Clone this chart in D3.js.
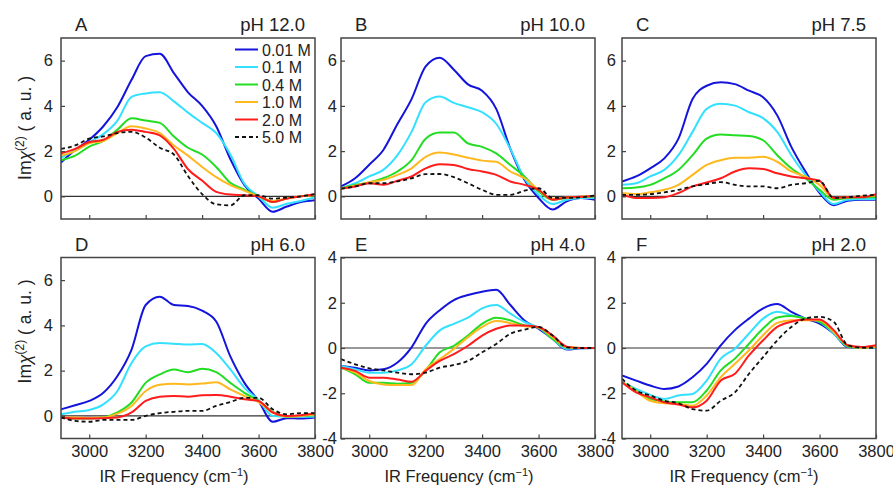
<!DOCTYPE html>
<html>
<head>
<meta charset="utf-8">
<script src="https://cdn.jsdelivr.net/npm/d3@7"></script>
<style>
body { margin: 0; background: #fff; }
svg text { font-family: "Liberation Sans", Arial, sans-serif; fill: #222; }
</style>
</head>
<body>
<svg id="chart" width="893" height="491"></svg>
<script>

// IR frequency grid (cm-1), shared by every curve
const freq = [2900, 2950, 3000, 3050, 3100, 3150, 3200, 3250, 3300, 3350, 3400, 3450, 3500, 3550, 3600, 3650, 3700, 3750, 3800];

const concLabels = ['0.01 M', '0.1 M', '0.4 M', '1.0 M', '2.0 M', '5.0 M'];
const panelLetters = ['A', 'B', 'C', 'D', 'E', 'F'];
const panelPH = ['pH 12.0', 'pH 10.0', 'pH 7.5', 'pH 6.0', 'pH 4.0', 'pH 2.0'];

const xTicks = [3000, 3200, 3400, 3600, 3800];
const yTicksPos = [0, 2, 4, 6];
const yTicksSym = [-4, -2, 0, 2, 4];

// A - pH 12.0
const a001 = [1.5, 2.05, 2.5, 3.1, 3.95, 5.15, 6.2, 6.3, 5.45, 4.6, 4.0, 3.1, 1.65, 0.5, -0.1, -0.68, -0.45, -0.25, -0.17];
const a01  = [1.7, 2.05, 2.4, 2.75, 3.35, 4.4, 4.55, 4.6, 4.2, 3.7, 3.25, 2.8, 1.85, 0.55, 0.0, -0.5, -0.33, -0.2, -0.05];
const a04  = [1.6, 1.8, 2.2, 2.45, 2.95, 3.45, 3.35, 3.25, 2.65, 2.15, 1.85, 1.3, 0.6, 0.3, 0.0, -0.25, -0.1, 0.0, 0.05];
const a10  = [1.8, 2.0, 2.35, 2.45, 2.8, 3.1, 3.0, 2.8, 2.25, 1.8, 1.3, 0.85, 0.5, 0.25, 0.0, -0.2, -0.1, 0.0, 0.05];
const a20  = [1.9, 2.1, 2.4, 2.5, 2.85, 2.95, 2.85, 2.7, 2.1, 1.2, 0.7, 0.2, 0.08, 0.05, 0.0, -0.25, -0.1, 0.0, 0.1];
const a50  = [2.1, 2.25, 2.55, 2.65, 2.8, 2.85, 2.6, 2.15, 1.85, 0.9, 0.1, -0.35, -0.4, 0.05, 0.05, -0.1, -0.05, 0.0, 0.1];

// B - pH 10.0
const b001 = [0.44, 0.8, 1.4, 2.05, 3.2, 4.3, 5.75, 6.13, 5.6, 4.95, 4.67, 3.87, 2.1, 0.73, -0.07, -0.58, -0.22, -0.07, -0.15];
const b01  = [0.36, 0.58, 0.88, 1.17, 1.82, 2.85, 4.16, 4.41, 4.13, 3.94, 3.72, 3.21, 2.1, 0.8, 0.07, -0.34, -0.15, -0.07, -0.07];
const b04  = [0.36, 0.5, 0.61, 0.8, 1.1, 1.6, 2.55, 2.82, 2.82, 2.34, 2.19, 1.9, 1.39, 0.88, 0.22, -0.15, -0.07, -0.02, 0.0];
const b10  = [0.34, 0.47, 0.63, 0.73, 0.95, 1.24, 1.75, 1.94, 1.85, 1.71, 1.58, 1.53, 1.1, 0.8, 0.29, -0.1, -0.05, -0.02, 0.03];
const b20  = [0.34, 0.44, 0.58, 0.51, 0.69, 0.88, 1.24, 1.42, 1.39, 1.21, 1.1, 0.95, 0.66, 0.51, 0.29, -0.15, -0.05, -0.02, 0.03];
const b50  = [0.34, 0.44, 0.58, 0.58, 0.66, 0.8, 0.98, 0.99, 0.85, 0.58, 0.29, 0.07, 0.07, 0.25, 0.36, -0.07, -0.07, -0.04, 0.04];

// C - pH 7.5
const c001 = [0.66, 0.88, 1.24, 1.68, 2.55, 4.3, 4.89, 5.04, 4.96, 4.67, 4.38, 3.58, 2.19, 1.1, 0.15, -0.39, -0.19, -0.15, -0.15];
const c01  = [0.51, 0.58, 0.88, 1.17, 1.82, 2.85, 3.87, 4.09, 4.01, 3.72, 3.46, 2.85, 1.82, 0.95, 0.22, -0.34, -0.15, -0.12, -0.12];
const c04  = [0.36, 0.39, 0.51, 0.8, 1.17, 1.82, 2.55, 2.73, 2.7, 2.67, 2.48, 1.82, 1.24, 0.8, 0.29, -0.15, -0.07, -0.04, -0.04];
const c10  = [0.15, 0.1, 0.18, 0.29, 0.51, 0.95, 1.39, 1.6, 1.71, 1.71, 1.75, 1.53, 1.1, 0.88, 0.51, -0.07, -0.04, 0.0, 0.04];
const c20  = [0.07, -0.07, -0.07, -0.04, 0.15, 0.44, 0.61, 0.8, 1.1, 1.24, 1.21, 1.02, 0.88, 0.8, 0.69, -0.07, -0.04, -0.04, 0.1];
const c50  = [0.07, 0.07, 0.1, 0.18, 0.29, 0.44, 0.54, 0.63, 0.51, 0.44, 0.44, 0.36, 0.51, 0.58, 0.69, -0.07, -0.04, 0.03, 0.07];

// D - pH 6.0
const d001 = [0.29, 0.47, 0.66, 1.02, 1.76, 2.93, 4.9, 5.27, 4.9, 4.86, 4.65, 4.17, 2.63, 1.46, 0.66, -0.26, -0.1, -0.12, -0.07];
const d01  = [0.07, 0.18, 0.26, 0.51, 1.1, 2.34, 3.07, 3.22, 3.19, 3.15, 3.18, 2.78, 2.05, 1.24, 0.7, 0.0, -0.04, -0.04, -0.04];
const d04  = [-0.07, -0.12, -0.12, -0.07, 0.15, 0.59, 1.46, 1.83, 2.05, 1.93, 2.08, 1.93, 1.46, 1.02, 0.66, 0.18, -0.03, 0.0, 0.03];
const d10  = [-0.07, -0.07, -0.09, -0.07, 0.1, 0.44, 1.1, 1.38, 1.42, 1.39, 1.43, 1.49, 1.17, 0.88, 0.61, 0.15, -0.03, 0.0, 0.06];
const d20  = [-0.07, -0.12, -0.12, -0.1, -0.07, 0.15, 0.66, 0.85, 0.88, 0.85, 0.91, 0.92, 0.85, 0.73, 0.66, 0.15, 0.0, 0.03, 0.1];
const d50  = [-0.07, -0.22, -0.26, -0.18, -0.18, -0.18, 0.0, 0.12, 0.18, 0.22, 0.22, 0.44, 0.61, 0.8, 0.8, 0.29, 0.07, 0.12, 0.12];

// E - pH 4.0
const e001 = [-0.79, -0.87, -0.99, -0.94, -0.64, 0.03, 1.07, 1.67, 2.12, 2.34, 2.49, 2.57, 1.9, 1.22, 0.85, 0.4, -0.07, -0.01, 0.0];
const e01  = [-0.79, -0.94, -1.09, -1.09, -0.99, -0.72, 0.1, 0.78, 1.07, 1.34, 1.75, 1.9, 1.52, 1.15, 0.9, 0.4, -0.04, -0.01, 0.0];
const e04  = [-0.87, -1.16, -1.54, -1.54, -1.58, -1.54, -0.99, -0.19, 0.1, 0.55, 1.07, 1.34, 1.22, 1.0, 0.9, 0.4, 0.03, 0.0, 0.0];
const e10  = [-0.87, -1.09, -1.46, -1.61, -1.64, -1.64, -0.94, -0.49, -0.04, 0.48, 0.93, 1.19, 1.1, 0.96, 0.9, 0.48, 0.03, 0.0, 0.0];
const e20  = [-0.87, -1.01, -1.31, -1.31, -1.39, -1.49, -1.01, -0.57, -0.27, 0.1, 0.55, 0.85, 1.0, 1.0, 0.93, 0.55, 0.06, 0.0, 0.0];
const e50  = [-0.49, -0.72, -0.9, -0.99, -1.09, -1.16, -1.09, -0.87, -0.75, -0.57, -0.19, 0.18, 0.63, 0.81, 0.93, 0.55, 0.03, 0.0, 0.0];

// F - pH 2.0
const f001 = [-1.21, -1.44, -1.66, -1.81, -1.7, -1.29, -0.7, 0.12, 0.79, 1.3, 1.75, 1.94, 1.6, 1.3, 1.08, 0.64, 0.04, 0.01, 0.01];
const f01  = [-1.51, -1.81, -2.07, -2.25, -2.1, -2.03, -1.44, -0.47, -0.03, 0.64, 1.3, 1.6, 1.45, 1.3, 1.16, 0.64, 0.07, 0.01, 0.01];
const f04  = [-1.51, -1.88, -2.25, -2.36, -2.4, -2.4, -1.88, -0.99, -0.47, 0.19, 0.86, 1.35, 1.41, 1.3, 1.16, 0.71, 0.07, 0.01, 0.07];
const f10  = [-1.51, -1.91, -2.33, -2.44, -2.47, -2.55, -2.1, -1.29, -0.7, -0.1, 0.56, 1.11, 1.23, 1.23, 1.23, 0.71, 0.12, 0.01, 0.04];
const f20  = [-1.51, -1.96, -2.18, -2.4, -2.5, -2.62, -2.33, -1.44, -1.14, -0.33, 0.34, 0.93, 1.16, 1.26, 1.26, 0.79, 0.12, 0.04, 0.12];
const f50  = [-1.36, -1.88, -2.1, -2.33, -2.44, -2.7, -2.77, -2.33, -1.96, -1.14, -0.4, 0.34, 0.93, 1.3, 1.38, 1.16, 0.12, 0.01, 0.01];

const panelSeries = [
	[a001, a01, a04, a10, a20, a50],
	[b001, b01, b04, b10, b20, b50],
	[c001, c01, c04, c10, c20, c50],
	[d001, d01, d04, d10, d20, d50],
	[e001, e01, e04, e10, e20, e50],
	[f001, f01, f04, f10, f20, f50]
];

// styling
const lineColors = ['#1414dc', '#33e0ff', '#22dd22', '#ffb81e', '#ff1c1c', '#111'];
const colLeft = [61, 341, 622];
const rowTop = [38, 257.5];
const pw = 254, ph = 181;
const yPad = [8, 4, 6];        // gap between y labels and frame, per column
const xTitleShift = [-14, -9, -5];

let svg = d3.select('#chart');

panelSeries.forEach(function(series, i) {

	let col = i % 3, row = Math.floor(i / 3);
	let x0 = colLeft[col], y0 = rowTop[row];
	let sym = (i >= 4);

	let xScale = d3.scaleLinear().domain([2900, 3800]).range([0, pw]);
	let yScale = d3.scaleLinear().domain(sym ? [-4, 4] : [-1, 7]).range([ph, 0]);

	let g = svg.append('g').attr('transform', 'translate(' + x0 + ',' + y0 + ')');

	g.append('clipPath').attr('id', 'clip' + i)
		.append('rect').attr('width', pw).attr('height', ph);

	// zero line
	g.append('line')
		.attr('x1', 0).attr('x2', pw)
		.attr('y1', yScale(0)).attr('y2', yScale(0))
		.attr('stroke', '#333').attr('stroke-width', 1.2);

	// curves
	let line = d3.line()
		.x(function(d, k) { return xScale(freq[k]); })
		.y(function(d) { return yScale(d); })
		.curve(d3.curveMonotoneX);

	g.append('g').attr('clip-path', 'url(#clip' + i + ')')
		.selectAll('path').data(series).enter().append('path')
		.attr('d', function(d) { return line(d); })
		.attr('fill', 'none')
		.attr('stroke', function(d, k) { return lineColors[k]; })
		.attr('stroke-width', function(d, k) { return k == 5 ? 1.8 : 2; })
		.attr('stroke-dasharray', function(d, k) { return k == 5 ? '4,3' : null; });

	// x axis, ticks inward
	let xAxis = d3.axisBottom(xScale).tickValues(xTicks).tickSize(-4).tickPadding(7)
		.tickFormat(function(d) { return row == 1 ? d : ''; });
	let gx = g.append('g').attr('transform', 'translate(0,' + ph + ')').call(xAxis);

	// y axis
	let yAxis = d3.axisLeft(yScale).tickValues(sym ? yTicksSym : yTicksPos).tickSize(-4).tickPadding(yPad[col])
		.tickFormat(function(d) { return String(d); });
	let gy = g.append('g').call(yAxis);

	[gx, gy].forEach(function(ax) {
		ax.select('.domain').remove();
		ax.selectAll('line').attr('stroke', '#444').attr('stroke-width', 1.2);
		ax.selectAll('text').attr('font-size', 16.5).attr('fill', '#222')
			.attr('font-family', '"Liberation Sans", Arial, sans-serif');
	});

	// frame
	g.append('rect').attr('width', pw).attr('height', ph)
		.attr('fill', 'none').attr('stroke', '#444').attr('stroke-width', 1.5);

	// panel letter and pH
	g.append('text').attr('x', 14).attr('y', -7).attr('font-size', 18.5).text(panelLetters[i]);
	g.append('text').attr('x', pw - 10).attr('y', -7).attr('font-size', 18.5)
		.attr('text-anchor', 'end').text(panelPH[i]);

	// legend only in panel A
	if (i == 0) {
		let lg = g.selectAll('.leg').data(concLabels).enter().append('g')
			.attr('class', 'leg')
			.attr('transform', function(d, k) { return 'translate(174,' + (11.5 + k * 17.5) + ')'; });
		lg.append('line').attr('x1', 0).attr('x2', 23)
			.attr('stroke', function(d, k) { return lineColors[k]; })
			.attr('stroke-width', 2)
			.attr('stroke-dasharray', function(d, k) { return k == 5 ? '4,3' : null; });
		lg.append('text').attr('x', 27).attr('y', 6).attr('font-size', 16).text(function(d) { return d; });
	}

	// x axis title under bottom row
	if (row == 1) {
		let t = g.append('text').attr('x', pw / 2 + xTitleShift[col]).attr('y', ph + 43.5)
			.attr('text-anchor', 'middle').attr('font-size', 16.5);
		t.append('tspan').text('IR Frequency (cm');
		t.append('tspan').attr('dy', -6).attr('font-size', 11).text('\u22121');
		t.append('tspan').attr('dy', 6).text(')');
	}

	// y axis title on left column
	if (col == 0) {
		let cy = row == 0 ? 90 : 74;
		let t = g.append('text')
			.attr('transform', 'translate(-30,' + cy + ') rotate(-90)')
			.attr('text-anchor', 'middle').attr('font-size', 17.5);
		t.append('tspan').text('Im');
		t.append('tspan').attr('font-style', 'italic').text('\u03c7');
		t.append('tspan').attr('dy', -7).attr('font-size', 12).text('(2)');
		t.append('tspan').attr('dy', 7).text(' ( a. u. )');
	}
});

</script>
</body>
</html>
